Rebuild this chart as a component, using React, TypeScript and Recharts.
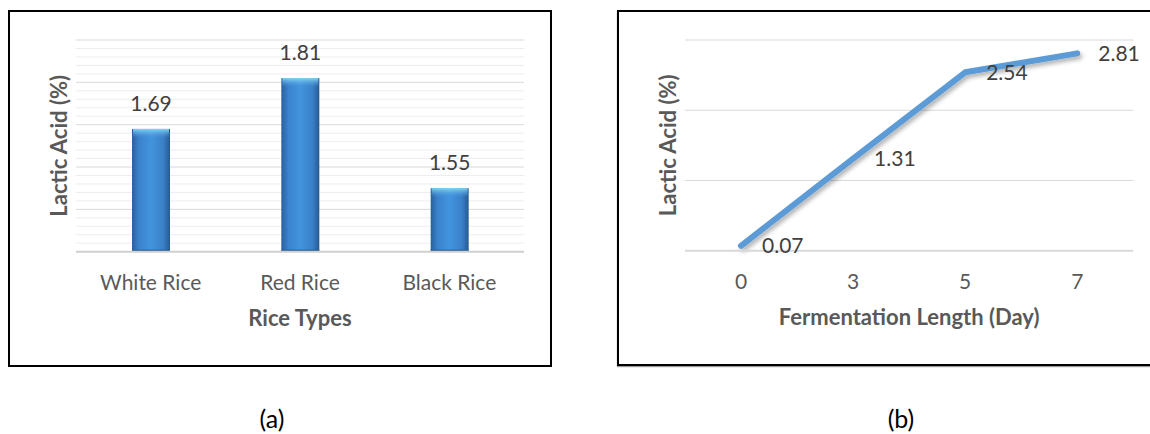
import React from "react";
import {
  Bar,
  BarChart,
  LabelList,
  Line,
  LineChart,
  ReferenceLine,
  XAxis,
  YAxis,
} from "recharts";

// (a) lactic acid by rice type
const riceTypes = ["White Rice", "Red Rice", "Black Rice"];
const riceAcid = [1.69, 1.81, 1.55];
const riceMajorTicks = [1.5, 1.6, 1.7, 1.8, 1.9];
const riceMinorTicks = [
  1.42, 1.44, 1.46, 1.48, 1.52, 1.54, 1.56, 1.58, 1.62, 1.64, 1.66, 1.68,
  1.72, 1.74, 1.76, 1.78, 1.82, 1.84, 1.86, 1.88,
];

// (b) lactic acid by fermentation length
const days = ["0", "3", "5", "7"];
const dayAcid = [0.07, 1.31, 2.54, 2.81];
const dayGrid = [1, 2, 3];

const riceData = riceTypes.map((name, i) => ({ name, value: riceAcid[i] }));
const dayData = days.map((day, i) => ({ day, value: dayAcid[i] }));

const FONT = "Lato, 'Open Sans', sans-serif";
const GREY = "#595959";
const BAR_MARGIN = { left: 0, right: 36, top: 40, bottom: 0 };

function GlossyBar(props: any) {
  const { x, y, width, height } = props;
  if (!height || height <= 0) return null;
  return (
    <g>
      <rect x={x} y={y} width={width} height={height} fill="url(#barGrad)" />
      <rect x={x + 1} y={y} width={width - 2} height={9} fill="url(#capGrad)" />
      <rect x={x} y={y + height - 2} width={width} height={2} fill="#2a5a8c" />
    </g>
  );
}

const caption: React.CSSProperties = {
  position: "absolute",
  width: 100,
  top: 402,
  textAlign: "center",
  fontSize: 25,
  lineHeight: "32px",
  color: "#000",
};

const layer: React.CSSProperties = { position: "absolute", left: 0, top: 0 };

export default function App() {
  return (
    <div
      style={{
        position: "absolute",
        left: 0,
        top: 0,
        width: 1150,
        height: 434,
        overflow: "hidden",
        background: "#fff",
        fontFamily: FONT,
      }}
    >
      <div
        style={{
          position: "absolute",
          left: 8,
          top: 10,
          width: 540,
          height: 353,
          border: "2px solid #000",
        }}
      />
      <div
        style={{
          position: "absolute",
          left: 617,
          top: 10,
          width: 600,
          height: 352,
          border: "2px solid #000",
          boxShadow: "0 1px 1px #999",
        }}
      />

      {/* gridlines of (a), drawn underneath the bars */}
      <div style={layer}>
        <BarChart width={560} height={380} data={riceData} margin={BAR_MARGIN} barSize={38}>
          {riceMinorTicks.map((v) => (
            <ReferenceLine key={"m" + v} y={v} stroke="#ededed" strokeWidth={1} />
          ))}
          {riceMajorTicks.map((v) => (
            <ReferenceLine key={"M" + v} y={v} stroke="#d9d9d9" strokeWidth={1} />
          ))}
          <XAxis dataKey="name" height={128.3} tick={false} tickLine={false} axisLine={false} />
          <YAxis width={76} domain={[1.4, 1.9]} tick={false} tickLine={false} axisLine={false} />
          <Bar dataKey="value" fill="transparent" isAnimationActive={false} />
        </BarChart>
      </div>

      <div style={layer}>
        <BarChart width={560} height={380} data={riceData} margin={BAR_MARGIN} barSize={38}>
          <defs>
            <linearGradient id="barGrad" x1="0" y1="0" x2="1" y2="0">
              <stop offset="0%" stopColor="#28609c" />
              <stop offset="18%" stopColor="#3a82cc" />
              <stop offset="50%" stopColor="#4294de" />
              <stop offset="82%" stopColor="#3a80c8" />
              <stop offset="100%" stopColor="#265a90" />
            </linearGradient>
            <linearGradient id="capGrad" x1="0" y1="0" x2="0" y2="1">
              <stop offset="0%" stopColor="#8ad8f8" stopOpacity={0.95} />
              <stop offset="100%" stopColor="#4a9be0" stopOpacity={0} />
            </linearGradient>
          </defs>
          <XAxis
            dataKey="name"
            height={128.3}
            tickLine={false}
            tickSize={0}
            tickMargin={23}
            axisLine={{ stroke: "#d0d0d0", strokeWidth: 2 }}
            tick={{ fontSize: 21, fill: GREY, fontFamily: FONT }}
            label={{
              value: "Rice Types",
              position: "insideTop",
              offset: 59,
              fontSize: 22,
              fontWeight: 700,
              fill: GREY,
              fontFamily: FONT,
            }}
          />
          <YAxis
            width={76}
            domain={[1.4, 1.9]}
            tick={false}
            tickLine={false}
            axisLine={false}
            label={{
              value: "Lactic Acid (%)",
              position: "insideLeft",
              angle: -90,
              offset: 59,
              fontSize: 22,
              fontWeight: 700,
              fill: GREY,
              fontFamily: FONT,
              style: { textAnchor: "middle" },
            }}
          />
          <Bar dataKey="value" shape={GlossyBar} isAnimationActive={false}>
            <LabelList
              dataKey="value"
              position="top"
              offset={18}
              fontSize={21}
              fill="#404040"
              fontFamily={FONT}
            />
          </Bar>
        </BarChart>
      </div>

      <div style={{ position: "absolute", left: 620, top: 0 }}>
        <LineChart
          width={530}
          height={380}
          data={dayData}
          margin={{ left: 0, right: 16.7, top: 40, bottom: 0 }}
        >
          <defs>
            <filter id="lineShadow" x="-10%" y="-10%" width="130%" height="140%">
              <feDropShadow dx="2" dy="3" stdDeviation="2" floodColor="#000" floodOpacity="0.3" />
            </filter>
          </defs>
          {dayGrid.map((v) => (
            <ReferenceLine key={v} y={v} stroke="#d9d9d9" strokeWidth={1} />
          ))}
          <XAxis
            dataKey="day"
            height={129.3}
            padding={{ left: 56, right: 56 }}
            tickLine={false}
            tickSize={0}
            tickMargin={23}
            axisLine={{ stroke: "#d9d9d9", strokeWidth: 2 }}
            tick={{ fontSize: 21, fill: GREY, fontFamily: FONT }}
            label={{
              value: "Fermentation Length (Day)",
              position: "insideTop",
              offset: 59,
              fontSize: 22,
              fontWeight: 700,
              fill: GREY,
              fontFamily: FONT,
            }}
          />
          <YAxis
            width={65}
            domain={[0, 3]}
            tick={false}
            tickLine={false}
            axisLine={false}
            label={{
              value: "Lactic Acid (%)",
              position: "insideLeft",
              angle: -90,
              offset: 48,
              fontSize: 22,
              fontWeight: 700,
              fill: GREY,
              fontFamily: FONT,
              style: { textAnchor: "middle" },
            }}
          />
          <Line
            type="linear"
            dataKey="value"
            stroke="#5b9bd5"
            strokeWidth={6}
            strokeLinecap="round"
            strokeLinejoin="round"
            dot={false}
            filter="url(#lineShadow)"
            isAnimationActive={false}
          >
            <LabelList
              dataKey="value"
              position="right"
              offset={21}
              fontSize={21}
              fill="#404040"
              fontFamily={FONT}
            />
          </Line>
        </LineChart>
      </div>

      <div style={{ ...caption, left: 222 }}>(a)</div>
      <div style={{ ...caption, left: 851 }}>(b)</div>
    </div>
  );
}
